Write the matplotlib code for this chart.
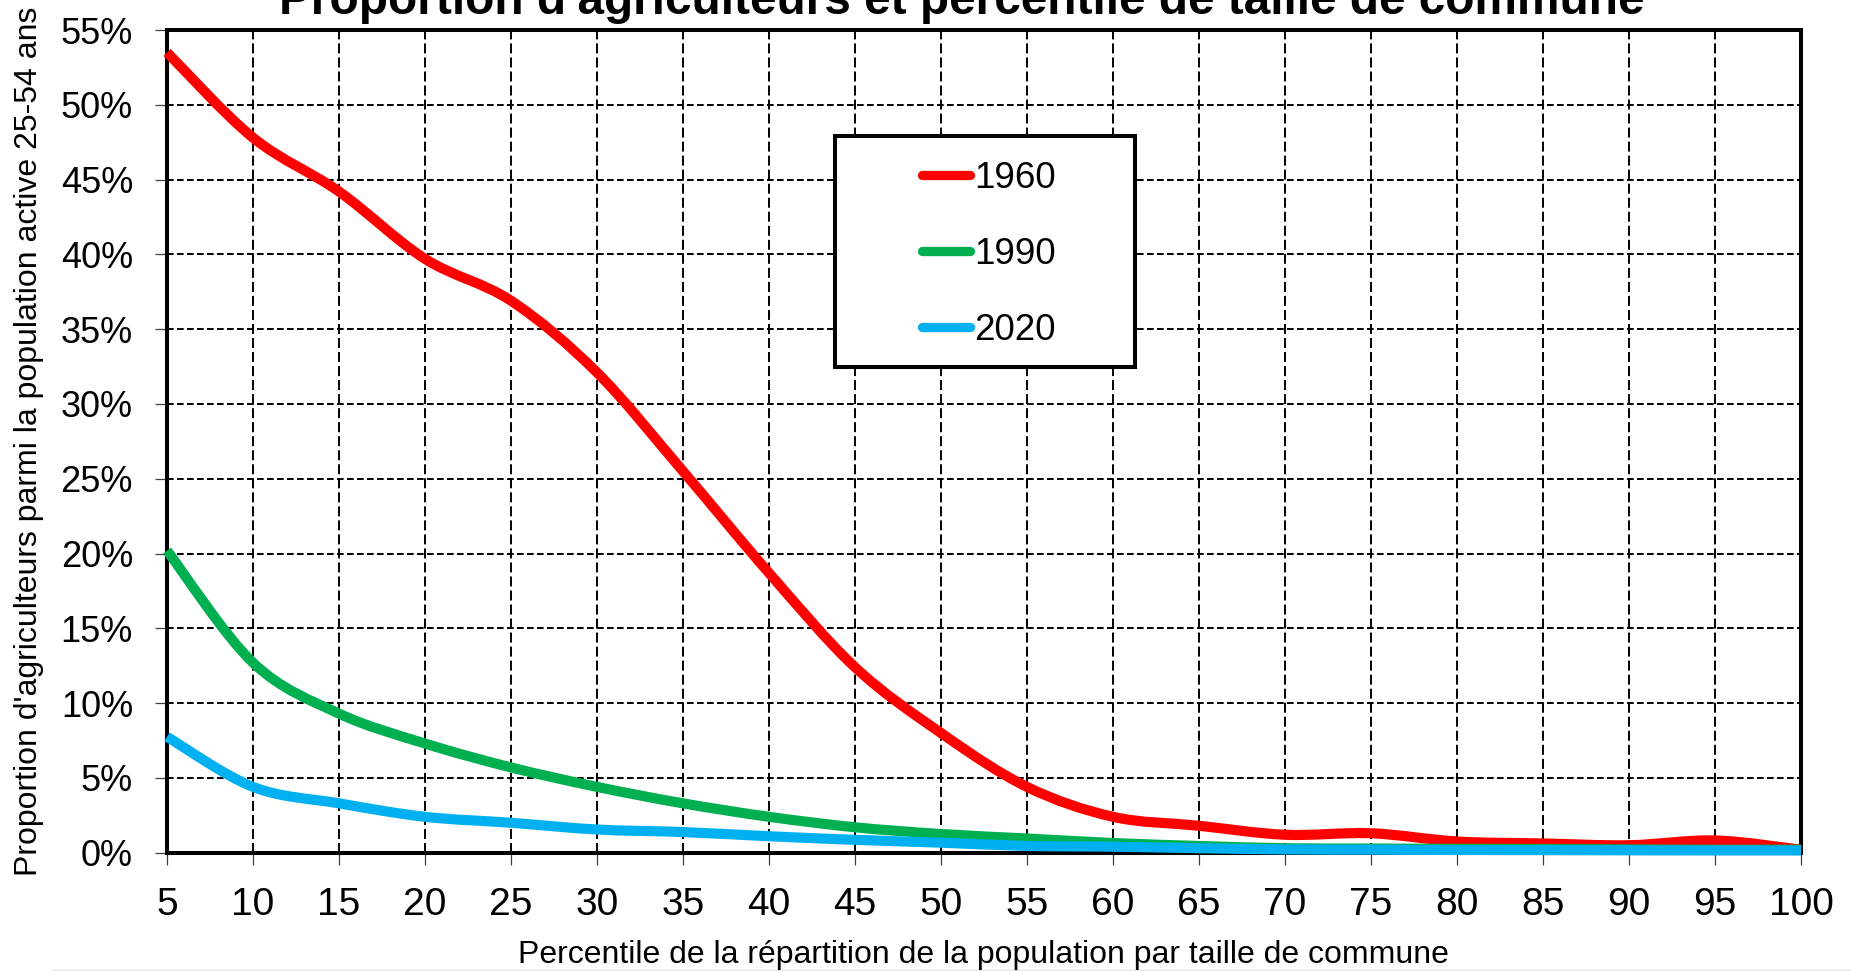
import matplotlib
matplotlib.use("Agg")
import matplotlib.pyplot as plt
from matplotlib.path import Path
from matplotlib.patches import PathPatch, Rectangle
from matplotlib.lines import Line2D
from matplotlib.ticker import FuncFormatter

plt.rcParams['font.family'] = ['Liberation Sans', 'DejaVu Sans']
plt.rcParams['lines.scale_dashes'] = False

# Percentile of the population ranked by commune size
percentiles = [5, 10, 15, 20, 25, 30, 35, 40, 45, 50,
               55, 60, 65, 70, 75, 80, 85, 90, 95, 100]

# Share of farmers among the 25-54 working population (%)
share_1960 = [53.5, 47.8, 44.2, 39.7, 36.9, 32.1, 25.5, 18.7, 12.4, 8.0,
              4.4, 2.4, 1.8, 1.2, 1.3, 0.75, 0.62, 0.5, 0.82, 0.2]
share_1990 = [20.2, 12.7, 9.3, 7.3, 5.7, 4.4, 3.3, 2.4, 1.7, 1.25,
              0.95, 0.65, 0.45, 0.3, 0.28, 0.26, 0.25, 0.22, 0.2, 0.2]
share_2020 = [7.75, 4.4, 3.3, 2.4, 2.0, 1.55, 1.38, 1.1, 0.86, 0.67,
              0.45, 0.4, 0.3, 0.22, 0.2, 0.18, 0.17, 0.16, 0.15, 0.15]

series_labels = ["1960", "1990", "2020"]
series_colors = ["#FF0000", "#00B050", "#00B0F0"]
y_ticks = [0, 5, 10, 15, 20, 25, 30, 35, 40, 45, 50, 55]

title = "Proportion d'agriculteurs et percentile de taille de commune"
x_label = "Percentile de la répartition de la population par taille de commune"
y_label = "Proportion d'agriculteurs parmi la population active 25-54 ans"

W, H = 1851, 971
fig = plt.figure(figsize=(W / 100, H / 100), dpi=100)
fig.patch.set_facecolor("white")
ax = fig.add_axes([167 / W, 1 - 852.7 / H, (1801 - 167) / W, (852.7 - 30) / H])


def smooth_path(x, y):
    """Smoothed polyline: cubic Bezier segments with Catmull-Rom tangents."""
    n = len(x)
    verts = [(x[0], y[0])]
    codes = [Path.MOVETO]
    for i in range(n - 1):
        xa, ya = (x[i - 1], y[i - 1]) if i > 0 else (x[i], y[i])
        xd, yd = (x[i + 2], y[i + 2]) if i + 2 < n else (x[i + 1], y[i + 1])
        c1 = (x[i] + (x[i + 1] - xa) / 6, y[i] + (y[i + 1] - ya) / 6)
        c2 = (x[i + 1] - (xd - x[i]) / 6, y[i + 1] - (yd - y[i]) / 6)
        verts += [c1, c2, (x[i + 1], y[i + 1])]
        codes += [Path.CURVE4] * 3
    return Path(verts, codes)


for values, color in zip([share_1960, share_1990, share_2020], series_colors):
    patch = PathPatch(smooth_path(percentiles, values), fill=False,
                      edgecolor=color, linewidth=7.3, capstyle='butt',
                      joinstyle='round', zorder=3, clip_on=False)
    ax.add_patch(patch)

ax.set_xlim(5, 100)
ax.set_ylim(0, 55)
ax.set_xticks(percentiles)
ax.set_yticks(y_ticks)
ax.yaxis.set_major_formatter(FuncFormatter(lambda v, _: f"{v:.0f}%"))

ax.xaxis.grid(True, color="black", linewidth=1.4, linestyle=(0, (7.2, 2.9)))
ax.yaxis.grid(True, color="black", linewidth=1.4, linestyle=(0, (4.8, 2.4)))
ax.set_axisbelow(True)

for side in ["left", "right", "top", "bottom"]:
    ax.spines[side].set_linewidth(2.9)
    ax.spines[side].set_color("black")

ax.tick_params(axis="both", direction="out", length=8.5, width=0.9,
               color="#404040", pad=16)
ax.tick_params(axis="x", labelsize=28)
ax.tick_params(axis="y", labelsize=26)

# Title, partially above the top edge of the canvas
fig.text(962 / W, 1 - 13.5 / H, title, ha="center", va="baseline",
         fontsize=34.4, fontweight="bold")
fig.text(983 / W, 1 - 963 / H, x_label, ha="center", va="baseline", fontsize=23)
fig.text(29.5 / W, 1 - 441 / H, y_label, ha="center", va="center",
         rotation=90, fontsize=23)

# Legend box
fig.add_artist(Rectangle((835 / W, 1 - 367 / H), 300 / W, 231 / H,
                         transform=fig.transFigure, facecolor="white",
                         edgecolor="black", linewidth=2.9, zorder=5))
for k, (label, color) in enumerate(zip(series_labels, series_colors)):
    base = 188.3 + 76 * k
    mid = base - 13.2
    fig.add_artist(Line2D([921.6 / W, 970.4 / W], [1 - mid / H] * 2,
                          transform=fig.transFigure, color=color,
                          linewidth=6.7, solid_capstyle="round", zorder=6))
    fig.text(974 / W, 1 - base / H, label, ha="left", va="baseline",
             fontsize=26.5, zorder=6)

# Thin rule along the bottom edge
fig.add_artist(Line2D([52 / W, 1.0], [1 - 970 / H] * 2, transform=fig.transFigure,
                      color="#e4e4e4", linewidth=1.0))

fig.savefig("out.png", dpi=100, facecolor="white")
